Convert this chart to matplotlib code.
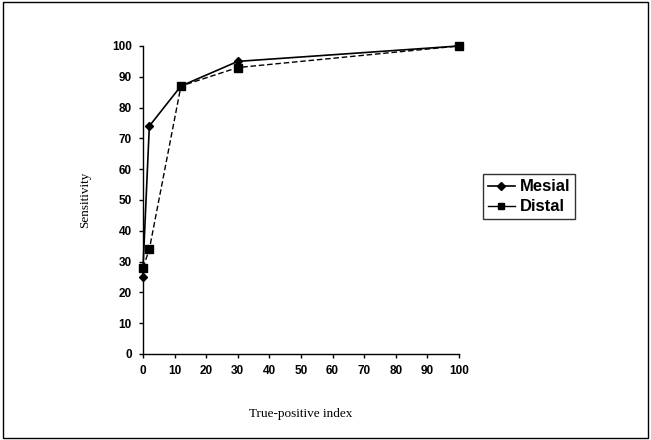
import matplotlib
matplotlib.use('Agg')
import matplotlib.pyplot as plt

# values
mesial_x = [0, 0, 2, 12, 30, 100]
mesial_y = [25, 28, 74, 87, 95, 100]
distal_x = [0, 2, 12, 30, 100]
distal_y = [28, 34, 87, 93, 100]
xticks = list(range(0, 101, 10))
yticks = list(range(0, 101, 10))

fig = plt.figure(figsize=(6.51, 4.40), dpi=100)
ax = fig.add_axes([0.2197, 0.1955, 0.4854, 0.70])

ax.plot(mesial_x, mesial_y, color='black', lw=1.2, marker='D', ms=4,
        label='Mesial', clip_on=False)
ax.plot(distal_x, distal_y, color='black', lw=1.0, ls=(0, (4, 2)), marker='s',
        ms=5.5, label='Distal', clip_on=False)

ax.set_xlim(0, 100)
ax.set_ylim(0, 100)
ax.set_xticks(xticks)
ax.set_yticks(yticks)
for s in ['top', 'right']:
    ax.spines[s].set_visible(False)
for s in ['left', 'bottom']:
    ax.spines[s].set_linewidth(1.0)
ax.tick_params(direction='out', length=3, width=1, pad=5)
for lab in ax.get_xticklabels() + ax.get_yticklabels():
    lab.set_family('Liberation Sans')
    lab.set_fontweight('bold')
    lab.set_fontsize(8.5)

ax.set_xlabel('True-positive index', family='Liberation Serif', fontsize=9.5,
              labelpad=22)
ax.set_ylabel('Sensitivity', family='Liberation Serif', fontsize=9.5,
              labelpad=15)

leg = ax.legend(loc='center left', bbox_to_anchor=(1.05, 0.51),
                frameon=True, fancybox=False, edgecolor='black',
                prop={'family': 'Liberation Sans', 'weight': 'bold', 'size': 12},
                handlelength=1.6, handletextpad=0.3, borderpad=0.3,
                labelspacing=0.3)
leg.get_frame().set_linewidth(1.0)
for ln in leg.get_lines():
    ln.set_linestyle('-')
    ln.set_markersize(4)

# outer frame around the whole picture
fig.patches.append(plt.Rectangle((0.004, 0.005), 0.992, 0.99,
                                 transform=fig.transFigure, fill=False,
                                 edgecolor='black', lw=1.0))

fig.savefig('out.png', dpi=100)
